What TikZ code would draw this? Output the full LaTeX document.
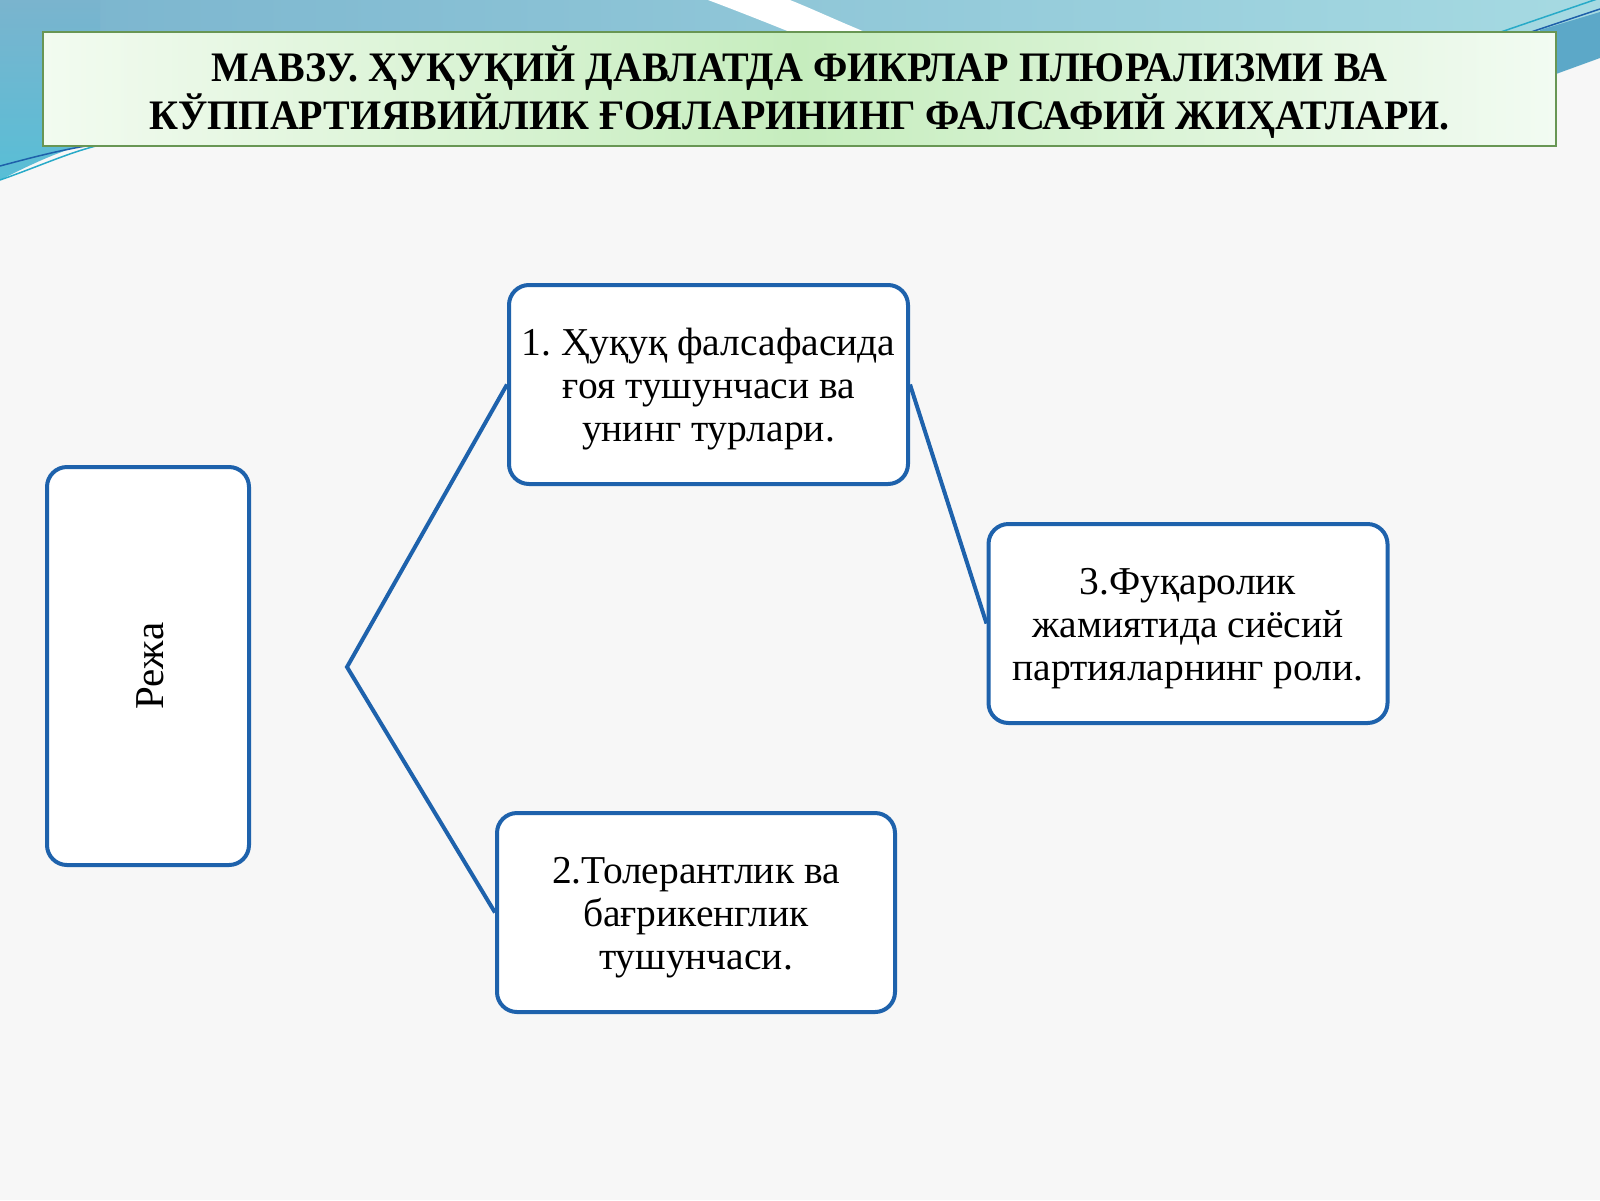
\documentclass[tikz,border=0pt]{standalone}
\usepackage{fontspec}
\setmainfont{Liberation Serif}
\frenchspacing
\definecolor{bgc}{RGB}{247,247,247}
\definecolor{bandL}{RGB}{122,180,206}
\definecolor{bandR}{RGB}{166,218,226}
\definecolor{bandC}{RGB}{88,190,214}
\definecolor{wedge}{RGB}{92,168,200}
\definecolor{lineblue}{RGB}{30,96,170}
\definecolor{lineteal}{RGB}{40,170,200}
\definecolor{boxblue}{RGB}{30,98,172}
\definecolor{titleedge}{RGB}{104,150,84}
\definecolor{titleL}{RGB}{242,251,240}
\definecolor{titleM}{RGB}{198,237,190}
\definecolor{titleR}{RGB}{242,251,242}
\tikzset{
  planbox/.style={draw=boxblue, line width=4pt, rounded corners=20pt, fill=white, inner sep=0pt},
  boxtext/.style={align=center, inner sep=0pt, font=\fontsize{39.5}{43}\selectfont},
  link/.style={draw=boxblue, line width=4pt},
  titlebox/.style={draw=titleedge, line width=2pt, left color=titleL, right color=titleR,
    middle color=titleM, inner sep=0pt},
  titletext/.style={align=center, inner sep=0pt, font=\bfseries\fontsize{42}{48.5}\selectfont}
}
\begin{document}
\begin{tikzpicture}[x=1pt,y=-1pt]
\useasboundingbox (0,0) rectangle (1600,1200);
% background
\fill[bgc] (0,0) rectangle (1600,1200);
% top band
\shade[left color=bandL, right color=bandR] (0,0) rectangle (1600,34);
\shade[top color=bandL, bottom color=bandC] (0,0) -- (100,0) -- (100,140)
  .. controls (60,150) and (30,165) .. (0,180) -- cycle;
\fill[wedge] (1540,30) -- (1600,12) -- (1600,58) -- (1556,74) -- (1540,74) -- cycle;
\fill[white] (708,0) .. controls (740,12) and (770,24) .. (800,36) -- (875,36)
  .. controls (840,22) and (815,10) .. (790,0) -- cycle;
\draw[lineblue, line width=1.5pt] (0,166) .. controls (30,158) and (60,150) .. (92,145);
\draw[lineteal, line width=1.5pt] (0,180) .. controls (40,166) and (70,152) .. (100,145);
\draw[lineteal, line width=1.5pt] (1495,34) -- (1600,-2);
\draw[lineblue, line width=1.5pt] (1525,34) -- (1600,9);
% title
\node[titlebox, minimum width=1513pt, minimum height=114pt] (title) at (799.5,89) {};
\node[titletext] (titlet) at ([yshift=-3pt]title.center)
  {\scalebox{0.952}[1]{МАВЗУ. ҲУҚУҚИЙ ДАВЛАТДА ФИКРЛАР ПЛЮРАЛИЗМИ ВА}\\
   \scalebox{0.952}[1]{КЎППАРТИЯВИЙЛИК ҒОЯЛАРИНИНГ ФАЛСАФИЙ ЖИҲАТЛАРИ.}};
% boxes
\node[planbox, minimum width=202pt, minimum height=398pt] (reja) at (148,666) {};
\node[rotate=90, inner sep=0pt, font=\fontsize{41}{43}\selectfont] (rejat) at ([xshift=2pt]reja.center) {Режа};
\node[planbox, minimum width=399pt, minimum height=199pt] (b1) at (708.5,384.5) {};
\node[boxtext] (b1t) at ([yshift=-5pt]b1.center)
  {1. Ҳуқуқ фалсафасида\\ғоя тушунчаси ва\\унинг турлари.};
\node[planbox, minimum width=398pt, minimum height=199pt] (b2) at (696,912.5) {};
\node[boxtext] (b2t) at ([yshift=-5pt]b2.center)
  {2.Толерантлик ва\\бағрикенглик\\тушунчаси.};
\node[planbox, minimum width=399pt, minimum height=199pt] (b3) at (1188,623.5) {};
\node[boxtext] (b3t) at ([yshift=-5pt]b3.center)
  {3.Фуқаролик\\жамиятида сиёсий\\партияларнинг роли.};
% connectors
\coordinate (j) at (347,667);
\draw[link, line join=miter] (b1.west) -- (j) -- (b2.west);
\draw[link] (b1.east) -- (b3.west);
\end{tikzpicture}
\end{document}
